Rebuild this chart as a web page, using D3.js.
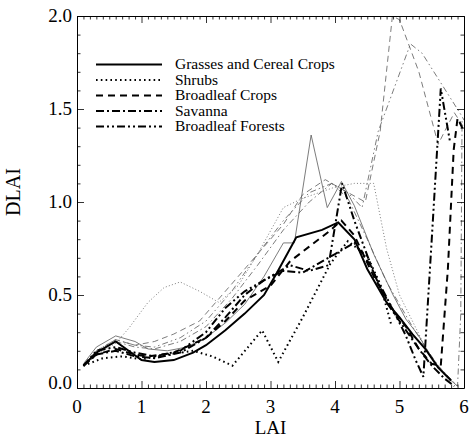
<!DOCTYPE html>
<html>
<head>
<meta charset="utf-8">
<script src="https://cdn.jsdelivr.net/npm/d3@7"></script>
<style>
html,body{margin:0;padding:0;background:#fff;}
</style>
</head>
<body>
<svg id="chart" width="469" height="440"></svg>
<script>
// ---- tick labels ----
const xTicks = [0, 1, 2, 3, 4, 5, 6];
const yTicks = [0.0, 0.5, 1.0, 1.5, 2.0];
const xTitle = "LAI";
const yTitle = "DLAI";

// ---- legend ----
const classNames = ["Grasses and Cereal Crops", "Shrubs", "Broadleaf Crops", "Savanna", "Broadleaf Forests"];

// ---- thick curves ----
const grassThickX = [0.1,0.3,0.6,0.8,1.0,1.2,1.5,1.8,2.0,2.3,2.6,2.9,3.1,3.4,3.8,4.05,4.3,4.5,4.8,5.0,5.2,5.4,5.6,5.8];
const grassThickY = [0.12,0.19,0.25,0.20,0.15,0.14,0.15,0.19,0.23,0.31,0.40,0.50,0.62,0.81,0.85,0.89,0.80,0.64,0.46,0.38,0.29,0.21,0.11,0.04];

const shrubThickX = [0.1,0.4,0.7,1.0,1.4,1.8,2.1,2.41,2.87,3.12,3.5,3.93,4.2,4.5,4.7,4.88];
const shrubThickY = [0.12,0.16,0.17,0.155,0.18,0.20,0.17,0.12,0.31,0.14,0.38,0.67,0.79,0.71,0.56,0.33];

const cropThickX = [0.1,0.3,0.6,0.9,1.1,1.5,2.0,2.3,2.6,3.0,3.3,3.6,3.9,4.1,4.3,4.6,4.9,5.1,5.3,5.5,5.64,5.75,5.84,5.9,6.0];
const cropThickY = [0.12,0.18,0.21,0.18,0.17,0.19,0.27,0.36,0.47,0.55,0.68,0.76,0.84,0.90,0.82,0.60,0.42,0.33,0.21,0.13,0.12,0.64,1.28,1.45,1.38];

const savThickX = [0.1,0.3,0.6,0.9,1.2,1.6,2.0,2.3,2.6,2.9,3.2,3.5,3.7,4.0,4.3,4.55,4.8,5.0,5.3,5.5,5.7,5.85];
const savThickY = [0.12,0.18,0.20,0.17,0.16,0.19,0.27,0.38,0.50,0.58,0.63,0.62,0.66,0.72,0.78,0.66,0.46,0.36,0.21,0.12,0.05,0.01];

const forThickX = [0.1,0.3,0.6,0.9,1.2,1.6,2.0,2.3,2.6,3.0,3.3,3.6,3.9,4.11,4.3,4.6,4.9,5.1,5.25,5.37,5.5,5.64,5.78];
const forThickY = [0.12,0.20,0.22,0.19,0.17,0.20,0.30,0.43,0.52,0.60,0.66,0.63,0.66,1.10,0.90,0.62,0.42,0.28,0.15,0.06,0.80,1.61,1.33];

// ---- thin curves ----
const grassThinX = [0.1,0.3,0.6,0.9,1.1,1.4,1.7,2.0,2.3,2.6,2.9,3.1,3.2,3.37,3.63,3.88,4.1,4.3,4.6,4.9,5.1,5.3,5.5,5.7,5.9];
const grassThinY = [0.13,0.22,0.28,0.25,0.21,0.20,0.22,0.27,0.35,0.45,0.60,0.72,0.78,0.78,1.36,0.97,1.11,0.98,0.72,0.50,0.37,0.28,0.16,0.07,0.01];

const shrubThinX = [0.1,0.4,0.6,0.8,1.1,1.35,1.6,1.9,2.2,2.5,2.8,3.2,3.5,4.0,4.3,4.6,4.8,5.0,5.2,5.4,5.6,5.8];
const shrubThinY = [0.12,0.20,0.24,0.32,0.46,0.54,0.57,0.52,0.46,0.55,0.72,0.97,1.02,1.08,1.10,1.10,0.75,0.50,0.36,0.22,0.12,0.03];

const cropThinX = [0.1,0.3,0.6,0.9,1.2,1.5,1.9,2.3,2.7,3.2,3.5,3.85,4.1,4.47,4.7,4.89,5.0,5.3,5.6,5.7,5.85,6.0];
const cropThinY = [0.12,0.20,0.26,0.23,0.25,0.29,0.36,0.52,0.68,0.88,1.04,1.12,1.07,1.00,1.38,2.00,1.98,1.70,1.31,1.38,1.48,1.40];

const savThinX = [0.1,0.3,0.6,0.9,1.2,1.6,2.0,2.4,2.8,3.2,3.6,3.95,4.2,4.5,4.8,5.0,5.2,5.4,5.6,5.9,5.95,5.97];
const savThinY = [0.12,0.19,0.25,0.22,0.21,0.25,0.33,0.48,0.66,0.85,1.00,1.10,1.02,0.80,0.57,0.45,0.33,0.22,0.12,0.01,0.40,1.45];

const forThinX = [0.1,0.3,0.6,0.9,1.2,1.6,2.0,2.4,2.8,3.2,3.6,3.95,4.2,4.42,4.67,5.17,5.35,5.97,6.0];
const forThinY = [0.12,0.20,0.26,0.23,0.22,0.27,0.36,0.52,0.72,0.90,1.05,1.10,1.05,0.97,1.38,1.85,1.80,1.46,1.44];

// ---- layout ----
const FONT = "'Liberation Serif','Times New Roman',serif";
const svg = d3.select("#chart");
const mLeft = 77, mRight = 464, mTop = 16, mBottom = 388;
const x = d3.scaleLinear().domain([0, 6]).range([mLeft, mRight]);
const y = d3.scaleLinear().domain([0, 2]).range([mBottom, mTop]);

const thickDash = ["none", "1.6,3.2", "7,5", "8,3,2,3", "8,3,2,3,2,3"];
const thinDash = ["none", "1,2.2", "6,4", "6,3,1.5,3", "6,3,1.5,3,1.5,3"];

svg.append("defs").append("clipPath").attr("id", "plotclip")
  .append("rect").attr("x", mLeft).attr("y", mTop).attr("width", mRight - mLeft).attr("height", mBottom - mTop);

const plot = svg.append("g").attr("clip-path", "url(#plotclip)");
const line = d3.line().x(d => x(d[0])).y(d => y(d[1]));
const zip = (a, b) => a.map((v, i) => [v, b[i]]);

const thin = [[grassThinX, grassThinY],[shrubThinX, shrubThinY],[cropThinX, cropThinY],[savThinX, savThinY],[forThinX, forThinY]];
const thick = [[grassThickX, grassThickY],[shrubThickX, shrubThickY],[cropThickX, cropThickY],[savThickX, savThickY],[forThickX, forThickY]];

thin.forEach((s, i) => {
  plot.append("path").attr("d", line(zip(s[0], s[1])))
    .attr("fill", "none").attr("stroke", "#5a5a5a").attr("stroke-width", 0.8)
    .attr("stroke-dasharray", thinDash[i]);
});
thick.forEach((s, i) => {
  plot.append("path").attr("d", line(zip(s[0], s[1])))
    .attr("fill", "none").attr("stroke", "#000").attr("stroke-width", 2)
    .attr("stroke-dasharray", thickDash[i]);
});

// ---- axes (ticks inward on all four sides) ----
const xMinor = d3.range(0, 6.001, 0.1);
const yMinor = d3.range(0, 2.001, 0.1);
const axG = svg.append("g");
const isMajorX = v => Math.abs(v - Math.round(v)) < 1e-6;
const isMajorY = v => Math.abs(v * 2 - Math.round(v * 2)) < 1e-6;

axG.append("g").attr("transform", `translate(0,${mBottom})`)
  .call(d3.axisTop(x).tickValues(xMinor).tickSizeInner(0).tickSizeOuter(0).tickFormat(""))
  .call(g => g.selectAll(".tick line").attr("y2", d => isMajorX(d) ? -7 : -3.5));
axG.append("g").attr("transform", `translate(0,${mTop})`)
  .call(d3.axisBottom(x).tickValues(xMinor).tickSizeInner(0).tickSizeOuter(0).tickFormat(""))
  .call(g => g.selectAll(".tick line").attr("y2", d => isMajorX(d) ? 7 : 3.5));
axG.append("g").attr("transform", `translate(${mLeft},0)`)
  .call(d3.axisRight(y).tickValues(yMinor).tickSizeInner(0).tickSizeOuter(0).tickFormat(""))
  .call(g => g.selectAll(".tick line").attr("x2", d => isMajorY(d) ? 7 : 3.5));
axG.append("g").attr("transform", `translate(${mRight},0)`)
  .call(d3.axisLeft(y).tickValues(yMinor).tickSizeInner(0).tickSizeOuter(0).tickFormat(""))
  .call(g => g.selectAll(".tick line").attr("x2", d => isMajorY(d) ? -7 : -3.5));
axG.selectAll("path.domain").attr("stroke", "#000").attr("stroke-width", 1);
axG.selectAll(".tick line").attr("stroke", "#000").attr("stroke-width", 0.8);

// tick labels
svg.append("g").selectAll("text").data(xTicks).join("text")
  .attr("x", d => x(d)).attr("y", mBottom + 25)
  .attr("text-anchor", "middle").attr("font-family", FONT).attr("font-size", 19).text(d => d);
svg.append("g").selectAll("text").data(yTicks).join("text")
  .attr("x", mLeft - 5).attr("y", d => y(d) + 6 - (d === 0 ? 5 : 0))
  .attr("text-anchor", "end").attr("font-family", FONT).attr("font-size", 19).text(d => d.toFixed(1));

// axis titles
svg.append("text").attr("x", (mLeft + mRight) / 2).attr("y", 434)
  .attr("text-anchor", "middle").attr("font-family", FONT).attr("font-size", 19).text(xTitle);
svg.append("text").attr("transform", `translate(20,${y(1.0)-10}) rotate(-90)`)
  .attr("text-anchor", "middle").attr("font-family", FONT).attr("font-size", 20).text(yTitle);

// legend
const lg = svg.append("g");
classNames.forEach((name, i) => {
  const by = 69 + i * 15.5;
  lg.append("line").attr("x1", 96).attr("x2", 162).attr("y1", by - 4.5).attr("y2", by - 4.5)
    .attr("stroke", "#000").attr("stroke-width", 2).attr("stroke-dasharray", thickDash[i]);
  lg.append("text").attr("x", 175).attr("y", by).attr("font-family", FONT).attr("font-size", 15.5).text(name);
});
</script>
</body>
</html>
